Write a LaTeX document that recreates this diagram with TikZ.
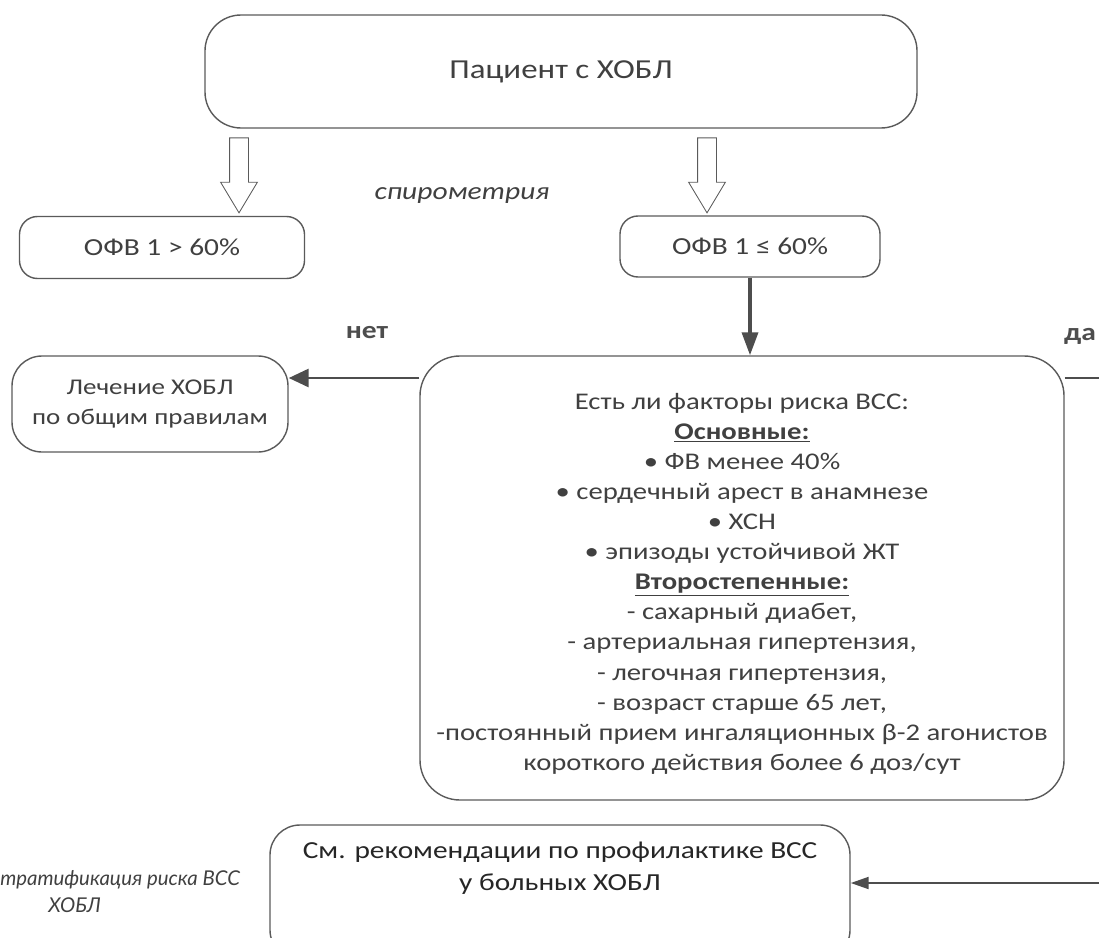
\documentclass[tikz,border=0pt]{standalone}
\usepackage{fontspec}
\setmainfont{Carlito}[FakeStretch=1.2]
\newfontfamily\capfont{Lato}
\usepackage{tikz}
\usetikzlibrary{shapes, shapes.arrows, arrows.meta, positioning}
\definecolor{boxgray}{RGB}{90, 90, 90}
\definecolor{txtgray}{RGB}{64, 64, 64}
\definecolor{arrgray}{RGB}{77, 77, 77}

\begin{document}
\begin{tikzpicture}[x=0.25mm, y=-0.25mm,
        box/.style={draw=boxgray, line width=1pt, rounded corners=#1, align=center, text=txtgray, inner sep=0pt},
        box/.default=5mm,
        fbig/.style={font=\fontsize{19.5}{24}\selectfont},
        fmid/.style={font=\fontsize{17.4}{22.7}\selectfont},
        fbody/.style={font=\fontsize{17}{21.4}\selectfont},
        hollow/.style={draw=boxgray, line width=0.6pt, single arrow, rotate=-90, minimum height=18.75mm, minimum width=9mm,
            inner xsep=0pt, inner ysep=2.25mm, single arrow head extend=2.25mm, single arrow tip angle=62},
        lbl/.style={font=\fontsize{17.5}{21}\selectfont\bfseries, text=arrgray},
        capt/.style={font=\fontsize{14.5}{18}\selectfont\capfont\itshape, text=txtgray, anchor=west, inner sep=0pt}]
    \useasboundingbox (0,0) rectangle (1099,937);
    \clip (0,0) rectangle (1099,937);

    \node[box=9mm, fbig, minimum width=178mm, minimum height=28.25mm] (patient) at (561,71.5) {Пациент с ХОБЛ};
    \node[hollow] (arrlo) at (239,167.5) {};
    \node[hollow] (arrhi) at (707,167.5) {};
    \node[font=\fontsize{17.5}{20}\selectfont\itshape, text=txtgray] (spiro) at (462,196) {спирометрия};

    \node[box=4.5mm, fmid, minimum width=71.25mm, minimum height=15.5mm] (ofvlo) at (162,247.5) {ОФВ 1 > 60\%};
    \node[box=4.5mm, fmid, minimum width=65mm, minimum height=15.25mm] (ofvhi) at (750,246.5) {ОФВ 1 ≤ 60\%};

    \node[box=7.5mm, font=\fontsize{16}{21.3}\selectfont, minimum width=69mm, minimum height=24mm] (treat) at (150,404)
        {Лечение ХОБЛ\\по общим правилам};
    \node[box=10mm, fbody, minimum width=161mm, minimum height=111mm] (risk) at (742,578) {%
        \mbox{}\\[-0.65mm]
        Есть ли факторы риска ВСС:\\
        \underline{\textbf{Основные:}}\\
        • ФВ менее 40\%\\
        • сердечный арест в анамнезе\\
        • ХСН\\
        • эпизоды устойчивой ЖТ\\
        \underline{\textbf{Второстепенные:}}\\
        - сахарный диабет,\\
        - артериальная гипертензия,\\
        - легочная гипертензия,\\
        - возраст старше 65 лет,\\
        -постоянный прием ингаляционных β-2 агонистов\\
        короткого действия более 6 доз/сут};

    \node[lbl] (no) at (367,333) {нет};
    \node[lbl] (yes) at (1080,336) {да};

    \node[box=7.5mm, fmid, text=black!85, minimum width=145mm, minimum height=33.75mm] (recom) at (560,892.5)
        {См. рекомендации по профилактике ВСС\\у больных ХОБЛ\\[5.25mm]\mbox{}};

    \node[capt] (capta) at (0,880) {тратификация риска ВСС};
    \node[capt] (captb) at (48,905) {ХОБЛ};

    % connectors
    \coordinate (yesend) at (1099,378);
    \coordinate (recomin) at (1099,883);
    \draw[arrgray, line width=2.5pt, -{Triangle[length=5.75mm, width=4mm]}] (ofvhi.south) -- (ofvhi.south |- risk.north);
    \draw[arrgray, line width=2.1pt, -{Triangle[length=5mm, width=4.5mm]}] (risk.west |- yesend) -- (treat.east |- yesend);
    \draw[arrgray, line width=1.4pt] (risk.east |- yesend) -- (yesend);
    \draw[arrgray, line width=1.4pt, -{Triangle[length=4.5mm, width=3mm]}] (recomin) -- (recom.east |- recomin);
\end{tikzpicture}
\end{document}
